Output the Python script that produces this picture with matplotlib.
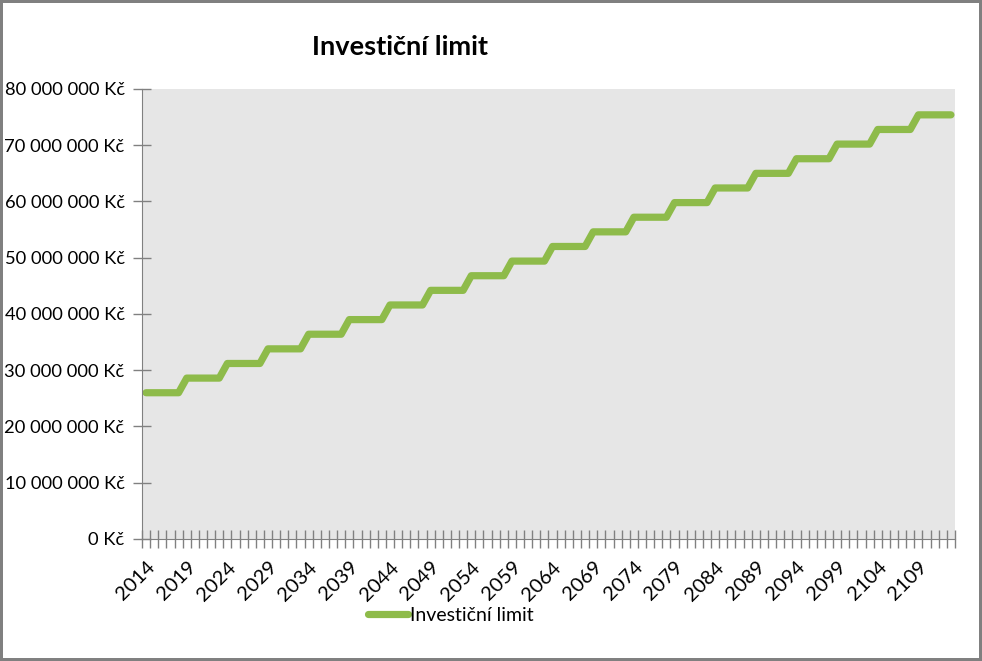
import matplotlib.pyplot as plt
import numpy as np

plt.rcParams['font.family'] = ['Lato', 'DejaVu Sans']

years = np.arange(2014, 2114)
# limit is raised every 5 years (Kč)
levels = [26000000, 28600000, 31200000, 33800000, 36400000,
          39000000, 41600000, 44200000, 46800000, 49400000,
          52000000, 54600000, 57200000, 59800000, 62400000,
          65000000, 67600000, 70200000, 72800000, 75400000]
limit = np.repeat(levels, 5)

fig = plt.figure(figsize=(9.82, 6.61), dpi=100)
fig.patch.set_edgecolor('#808080')
fig.patch.set_linewidth(4)

ax = fig.add_axes([0.1446, 0.1846, 0.8279, 0.6808])
ax.set_facecolor('#E6E6E6')

x = np.arange(len(years))
ax.plot(x, limit, color='#8EBB4A', lw=5.2, solid_capstyle='round',
        solid_joinstyle='round', label='Investiční limit')

ax.set_xlim(-0.5, len(years) - 0.5)
ax.set_ylim(0, 80000000)

ax.set_yticks(np.arange(0, 80000001, 10000000))
ax.set_yticklabels([f"{v:,.0f} Kč".replace(",", " ") for v in ax.get_yticks()])
ax.set_xticks(x[::5])
ax.set_xticklabels(years[::5], rotation=45, ha='right', rotation_mode='anchor')
ax.set_xticks(np.arange(-0.5, len(years)), minor=True)

ax.tick_params(axis='y', direction='inout', length=13, width=1, color='#808080',
               labelsize=13.2, pad=6)
ax.tick_params(axis='x', which='major', length=0, labelsize=14.5, pad=14)
ax.tick_params(axis='x', which='minor', direction='inout', length=13, width=1,
               color='#808080')

for s in ['top', 'right']:
    ax.spines[s].set_visible(False)
for s in ['left', 'bottom']:
    ax.spines[s].set_color('#808080')

fig.text(0.407, 0.929, 'Investiční limit', fontsize=19.5, fontweight='bold',
         ha='center', va='center')

fig.legend(loc='center', bbox_to_anchor=(0.459, 0.069), frameon=False,
           fontsize=14, handlelength=2.1, handletextpad=0.1)

fig.savefig('out.png', dpi=100, edgecolor=fig.get_edgecolor())
